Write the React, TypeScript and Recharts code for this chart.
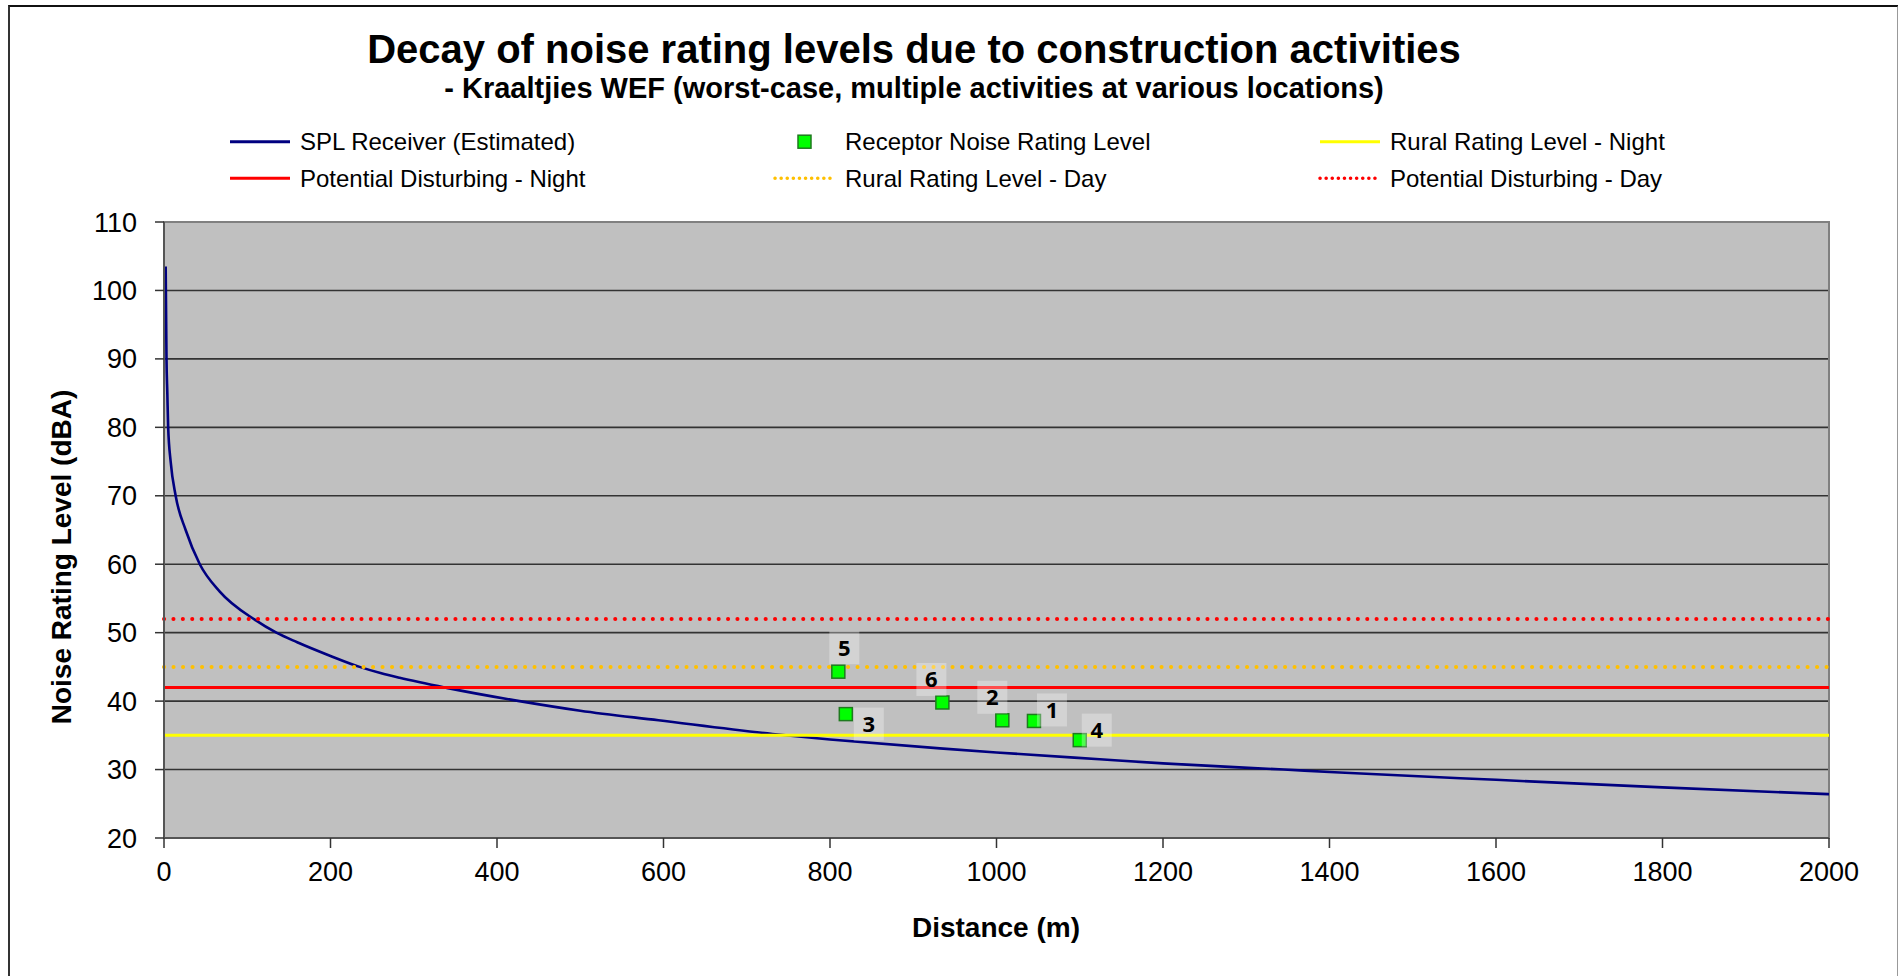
import {
  CartesianGrid,
  ComposedChart,
  Line,
  ReferenceArea,
  ReferenceLine,
  Scatter,
  XAxis,
  YAxis,
} from "recharts";

// SPL receiver curve
const distances = [
  2, 3, 4, 5, 8, 14, 26, 43, 67, 109, 135, 160, 200, 235, 260, 283, 341, 427,
  500, 594, 731, 800, 932, 1000, 1124, 1200, 1345, 1400, 1600, 1800, 2000,
];
const splReceiver = [
  103.5, 90, 85, 80, 75, 70, 65, 60, 56.0, 51.9, 50, 48.6, 46.6, 45, 44.1, 43.4,
  41.9, 40, 38.6, 37.2, 35.2, 34.4, 33.1, 32.5, 31.5, 30.9, 30.0, 29.65, 28.5,
  27.4, 26.4,
];

// receptors
const receptorIds = ["1", "2", "3", "4", "5", "6"];
const receptorDistance = [1045, 1007, 819, 1100, 810, 935];
const receptorLevel = [37.1, 37.2, 38.1, 34.3, 44.3, 39.8];

// limits (dBA)
const ruralNight = 35;
const disturbingNight = 42;
const ruralDay = 45;
const disturbingDay = 52;

const xTicks = [0, 200, 400, 600, 800, 1000, 1200, 1400, 1600, 1800, 2000];
const yTicks = [20, 30, 40, 50, 60, 70, 80, 90, 100, 110];

const FONT = "'Liberation Sans', Arial, sans-serif";

// where each receptor's number box sits relative to its marker
const LABEL_OFFSET: Record<string, [number, number]> = {
  "1": [18, -11],
  "2": [-10, -23],
  "3": [23, 10],
  "4": [17, -10],
  "5": [6, -24],
  "6": [-11, -23],
};

type LegendItem = {
  name: string;
  kind: "line" | "dots" | "square";
  color: string;
};

const legendRows: LegendItem[][] = [
  [
    { name: "SPL Receiver (Estimated)", kind: "line", color: "#000080" },
    { name: "Receptor Noise Rating Level", kind: "square", color: "#00FF00" },
    { name: "Rural Rating Level - Night", kind: "line", color: "#FFFF00" },
  ],
  [
    { name: "Potential Disturbing - Night", kind: "line", color: "#FF0000" },
    { name: "Rural Rating Level - Day", kind: "dots", color: "#FFC000" },
    { name: "Potential Disturbing - Day", kind: "dots", color: "#FF0000" },
  ],
];

const curveData = distances.map((d, i) => ({ d, spl: splReceiver[i] }));
const receptorData = receptorIds.map((id, i) => ({
  id,
  d: receptorDistance[i],
  level: receptorLevel[i],
}));

function ReceptorMarker(props: any) {
  const { cx, cy, payload } = props;
  if (cx == null || cy == null) return <g />;
  const [dx, dy] = LABEL_OFFSET[payload.id] ?? [14, -14];
  return (
    <g>
      <rect
        x={cx - 6.5}
        y={cy - 6.5}
        width={13}
        height={13}
        fill="#00FF00"
        stroke="#1E7A1E"
        strokeWidth={1.5}
      />
      <rect
        x={cx + dx - 15}
        y={cy + dy - 16.5}
        width={30}
        height={33}
        fill="#FFFFFF"
        fillOpacity={0.3}
      />
      <text
        x={cx + dx}
        y={cy + dy + 8}
        textAnchor="middle"
        fontFamily="'Open Sans', sans-serif"
        fontWeight="bold"
        fontSize={22}
        fill="#000"
      >
        {payload.id}
      </text>
    </g>
  );
}

function LegendSymbol({ item, x, y }: { item: LegendItem; x: number; y: number }) {
  if (item.kind === "square") {
    return (
      <rect
        x={x + 25}
        y={y - 6.5}
        width={13}
        height={13}
        fill={item.color}
        stroke="#1E7A1E"
        strokeWidth={1.5}
      />
    );
  }
  if (item.kind === "dots") {
    return (
      <line
        x1={x + 2}
        x2={x + 62}
        y1={y}
        y2={y}
        stroke={item.color}
        strokeWidth={3.5}
        strokeDasharray="0.1 6"
        strokeLinecap="round"
      />
    );
  }
  return <line x1={x + 2} x2={x + 62} y1={y} y2={y} stroke={item.color} strokeWidth={3} />;
}

function Overlay() {
  const colX = [228, 773, 1318];
  const rowY = [141.7, 178.3];
  return (
    <svg
      width={1898}
      height={976}
      style={{ position: "absolute", left: 0, top: 0, pointerEvents: "none" }}
    >
      <text x={914} y={63} textAnchor="middle" fontFamily={FONT} fontWeight="bold" fontSize={40}>
        Decay of noise rating levels due to construction activities
      </text>
      <text x={914} y={98} textAnchor="middle" fontFamily={FONT} fontWeight="bold" fontSize={29}>
        - Kraaltjies WEF (worst-case, multiple activities at various locations)
      </text>
      {legendRows.map((row, r) =>
        row.map((item, c) => (
          <g key={item.name}>
            <LegendSymbol item={item} x={colX[c]} y={rowY[r]} />
            <text x={colX[c] + 72} y={rowY[r] + 8.5} fontFamily={FONT} fontSize={24} fill="#000">
              {item.name}
            </text>
          </g>
        ))
      )}
      <text x={996} y={937} textAnchor="middle" fontFamily={FONT} fontWeight="bold" fontSize={28}>
        Distance (m)
      </text>
      <text
        transform="translate(71 557) rotate(-90)"
        textAnchor="middle"
        fontFamily={FONT}
        fontWeight="bold"
        fontSize={28}
      >
        Noise Rating Level (dBA)
      </text>
    </svg>
  );
}

export default function App() {
  return (
    <div
      style={{
        position: "absolute",
        left: 0,
        top: 0,
        width: 1898,
        height: 976,
        background: "#fff",
        overflow: "hidden",
      }}
    >
      <div
        style={{
          position: "absolute",
          left: 8,
          top: 5,
          width: 1887,
          height: 1000,
          borderTop: "2px solid #111",
          borderLeft: "2px solid #333",
          borderRight: "2px solid #999",
        }}
      />
      <div style={{ position: "absolute", left: 0, top: 0 }}>
        <ComposedChart
          width={1898}
          height={976}
          data={curveData}
          margin={{ top: 222, right: 69, bottom: 78, left: 64 }}
        >
          <CartesianGrid
            horizontal
            vertical={false}
            fill="#C0C0C0"
            fillOpacity={1}
            stroke="#333"
            strokeWidth={1.6}
          />
          <ReferenceArea
            x1={0}
            x2={2000}
            y1={20}
            y2={110}
            fill="none"
            fillOpacity={0}
            stroke="#808080"
            strokeWidth={2}
          />
          <XAxis
            dataKey="d"
            type="number"
            domain={[0, 2000]}
            ticks={xTicks}
            interval={0}
            height={60}
            tickSize={10}
            tickMargin={14}
            axisLine={{ stroke: "#555", strokeWidth: 2 }}
            tickLine={{ stroke: "#333", strokeWidth: 1.5 }}
            tick={{ fill: "#000", fontSize: 27, fontFamily: FONT }}
          />
          <YAxis
            type="number"
            domain={[20, 110]}
            ticks={yTicks}
            interval={0}
            width={100}
            tickSize={9}
            tickMargin={18}
            axisLine={{ stroke: "#555", strokeWidth: 2 }}
            tickLine={{ stroke: "#333", strokeWidth: 1.5 }}
            tick={{ fill: "#000", fontSize: 27, fontFamily: FONT }}
          />
          <Line
            type="monotone"
            dataKey="spl"
            name="SPL Receiver (Estimated)"
            stroke="#000080"
            strokeWidth={2.6}
            dot={false}
            activeDot={false}
            isAnimationActive={false}
          />
          <ReferenceLine y={ruralNight} stroke="#FFFF00" strokeWidth={3} />
          <ReferenceLine y={disturbingNight} stroke="#FF0000" strokeWidth={3} />
          <ReferenceLine
            y={ruralDay}
            stroke="#FFC000"
            strokeWidth={4}
            strokeDasharray="0.1 9.4"
            strokeLinecap="round"
          />
          <ReferenceLine
            y={disturbingDay}
            stroke="#FF0000"
            strokeWidth={4}
            strokeDasharray="0.1 9.3"
            strokeLinecap="round"
          />
          <Scatter
            data={receptorData}
            dataKey="level"
            name="Receptor Noise Rating Level"
            shape={ReceptorMarker}
            isAnimationActive={false}
          />
        </ComposedChart>
      </div>
      <Overlay />
    </div>
  );
}
